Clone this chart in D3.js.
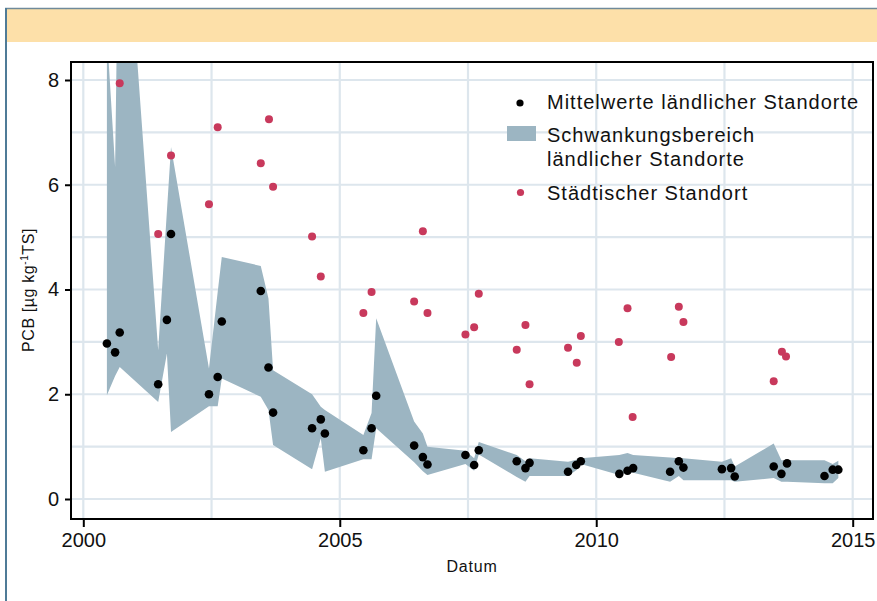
<!DOCTYPE html>
<html><head><meta charset="utf-8">
<script src="https://cdn.jsdelivr.net/npm/d3@7"></script>
<style>
html,body{margin:0;padding:0;background:#fff;}
svg{display:block;font-family:"Liberation Sans",Arial,sans-serif;}
</style></head>
<body>
<svg id="chart" width="877" height="601"></svg>
<script>
// ---- data ----
const ruralDates = [2000.46, 2000.62, 2000.71, 2001.46, 2001.63, 2001.71, 2002.45, 2002.62, 2002.70, 2003.46, 2003.61, 2003.70, 2004.46, 2004.63, 2004.71, 2005.46, 2005.62, 2005.71, 2006.45, 2006.62, 2006.71, 2007.45, 2007.62, 2007.71, 2008.45, 2008.62, 2008.70, 2009.45, 2009.61, 2009.70, 2010.45, 2010.61, 2010.72, 2011.44, 2011.61, 2011.70, 2012.45, 2012.63, 2012.70, 2013.46, 2013.61, 2013.72, 2014.45, 2014.61, 2014.72];
const ruralMean = [2.97, 2.80, 3.18, 2.19, 3.42, 5.06, 2.00, 2.33, 3.39, 3.97, 2.51, 1.65, 1.35, 1.52, 1.25, 0.93, 1.35, 1.97, 1.02, 0.80, 0.66, 0.84, 0.65, 0.93, 0.72, 0.59, 0.69, 0.52, 0.65, 0.72, 0.48, 0.54, 0.59, 0.52, 0.72, 0.60, 0.57, 0.59, 0.43, 0.62, 0.48, 0.68, 0.44, 0.56, 0.56];
const bandLow = [1.98, 2.35, 2.52, 1.85, 2.78, 1.28, 1.77, 1.77, 2.30, 1.95, 1.70, 1.03, 0.57, 1.16, 0.52, 0.76, 0.76, 1.35, 0.70, 0.53, 0.46, 0.67, 0.54, 0.85, 0.42, 0.33, 0.44, 0.44, 0.55, 0.67, 0.46, 0.52, 0.50, 0.33, 0.44, 0.36, 0.36, 0.36, 0.33, 0.40, 0.33, 0.33, 0.30, 0.30, 0.40];
const bandHigh = [8.9, 6.34, 13.0, 2.84, 5.5, 6.72, 2.49, 3.95, 4.62, 4.45, 3.83, 2.46, 2.00, 1.76, 1.70, 1.22, 1.64, 3.45, 1.48, 1.25, 1.00, 0.92, 0.78, 1.09, 0.84, 0.72, 0.78, 0.71, 0.75, 0.78, 0.84, 0.88, 0.84, 0.79, 0.78, 0.78, 0.71, 0.78, 0.62, 1.06, 0.74, 0.74, 0.74, 0.67, 0.73];
const urbanDates = [2000.71, 2001.46, 2001.71, 2002.45, 2002.62, 2003.46, 2003.62, 2003.70, 2004.46, 2004.63, 2005.46, 2005.62, 2006.45, 2006.62, 2006.71, 2007.45, 2007.62, 2007.71, 2008.45, 2008.62, 2008.70, 2009.45, 2009.62, 2009.70, 2010.44, 2010.61, 2010.71, 2011.46, 2011.61, 2011.70, 2013.46, 2013.62, 2013.70];
const urbanValues = [7.94, 5.06, 6.56, 5.63, 7.10, 6.41, 7.25, 5.96, 5.01, 4.25, 3.55, 3.95, 3.77, 5.11, 3.55, 3.14, 3.28, 3.92, 2.85, 3.32, 2.19, 2.89, 2.60, 3.11, 3.00, 3.64, 1.565, 2.71, 3.67, 3.38, 2.25, 2.81, 2.72];
const xTicks = [2000, 2005, 2010, 2015];
const yTicks = [0, 2, 4, 6, 8];
const xGrid = [2000, 2002.5, 2005, 2007.5, 2010, 2012.5, 2015];
const yGrid = [0, 1, 2, 3, 4, 5, 6, 7, 8];
const legendLabels = [["Mittelwerte ländlicher Standorte"], ["Schwankungsbereich", "ländlicher Standorte"], ["Städtischer Standort"]];
const xTitle = "Datum";

// ---- layout ----
const plot = {left: 71, right: 873, top: 62, bottom: 519};
const x = d3.scaleLinear().domain([2000, 2015]).range([83.3, 852.7]);
const y = d3.scaleLinear().domain([0, 8]).range([499, 80]);
const bandColor = "#9cb5c2", urbanColor = "#c8395c", gridColor = "#dde6ed";

const svg = d3.select("#chart");

// outer page frame + header
svg.append("rect").attr("x", 6).attr("y", 9).attr("width", 871).attr("height", 33).attr("fill", "#fde0a9");
svg.append("line").attr("x1", 5).attr("x2", 877).attr("y1", 8.5).attr("y2", 8.5).attr("stroke", "#6f8a9a").attr("stroke-width", 1.5);
svg.append("line").attr("x1", 6).attr("x2", 6).attr("y1", 8).attr("y2", 601).attr("stroke", "#4f7b97").attr("stroke-width", 2);

// clip
svg.append("clipPath").attr("id", "clip").append("rect")
  .attr("x", plot.left).attr("y", plot.top).attr("width", plot.right - plot.left).attr("height", plot.bottom - plot.top);

const g = svg.append("g").attr("clip-path", "url(#clip)");

// grid
g.selectAll(".gx").data(xGrid).enter().append("line")
  .attr("x1", d => x(d)).attr("x2", d => x(d)).attr("y1", plot.top).attr("y2", plot.bottom)
  .attr("stroke", gridColor).attr("stroke-width", 2.2);
g.selectAll(".gy").data(yGrid).enter().append("line")
  .attr("x1", plot.left).attr("x2", plot.right).attr("y1", d => y(d)).attr("y2", d => y(d))
  .attr("stroke", gridColor).attr("stroke-width", 2.2);

// band
const bandData = ruralDates.map((d, i) => ({d, lo: bandLow[i], hi: bandHigh[i]}));
g.append("path").datum(bandData)
  .attr("d", d3.area().x(p => x(p.d)).y0(p => y(p.lo)).y1(p => y(p.hi)))
  .attr("fill", bandColor);

// urban points
g.selectAll(".urb").data(urbanDates.map((d, i) => ({d, v: urbanValues[i]}))).enter().append("circle")
  .attr("cx", p => x(p.d)).attr("cy", p => y(p.v)).attr("r", 4).attr("fill", urbanColor);

// rural means
g.selectAll(".rur").data(ruralDates.map((d, i) => ({d, v: ruralMean[i]}))).enter().append("circle")
  .attr("cx", p => x(p.d)).attr("cy", p => y(p.v)).attr("r", 4.3).attr("fill", "#000");

// frame
svg.append("rect").attr("x", plot.left).attr("y", plot.top)
  .attr("width", plot.right - plot.left).attr("height", plot.bottom - plot.top)
  .attr("fill", "none").attr("stroke", "#000").attr("stroke-width", 2);

// axes
const yAxis = svg.append("g").attr("transform", `translate(${plot.left},0)`)
  .call(d3.axisLeft(y).tickValues(yTicks).tickSize(6).tickPadding(6).tickFormat(d3.format("d")));
const xAxis = svg.append("g").attr("transform", `translate(0,${plot.bottom})`)
  .call(d3.axisBottom(x).tickValues(xTicks).tickSize(8).tickPadding(6).tickFormat(d3.format("d")));
[yAxis, xAxis].forEach(a => {
  a.select(".domain").remove();
  a.selectAll(".tick line").attr("stroke", "#000").attr("stroke-width", 2);
  a.selectAll(".tick text").attr("fill", "#111").attr("font-size", 20).attr("font-family", "Liberation Sans, Arial, sans-serif");
});

// axis titles
svg.append("text").attr("x", 472).attr("y", 572).attr("text-anchor", "middle")
  .attr("font-size", 16).attr("letter-spacing", 0.8).attr("fill", "#111").text(xTitle);
const yt = svg.append("text").attr("transform", "translate(34,290) rotate(-90)")
  .attr("text-anchor", "middle").attr("font-size", 16).attr("letter-spacing", 0.6).attr("fill", "#111");
yt.append("tspan").text("PCB [µg kg");
yt.append("tspan").attr("font-size", 10).attr("dy", -6).text("-1");
yt.append("tspan").attr("dy", 6).text("TS]");

// legend
const lg = svg.append("g");
const textX = 547;
lg.append("circle").attr("cx", 520).attr("cy", 103).attr("r", 3.6).attr("fill", "#000");
lg.append("rect").attr("x", 507).attr("y", 126).attr("width", 29).attr("height", 15).attr("fill", bandColor);
lg.append("circle").attr("cx", 520.5).attr("cy", 192.5).attr("r", 3.6).attr("fill", urbanColor);
const baselines = [[108.5], [142], [166]];
legendLabels.forEach((lines, i) => {
  lines.forEach((t, j) => {
    const by = i === 2 ? 199.5 : baselines[i][0] + j * 24;
    lg.append("text").attr("x", textX).attr("y", by).attr("font-size", 20)
      .attr("letter-spacing", 1).attr("fill", "#111").text(t);
  });
});
</script>
</body></html>
